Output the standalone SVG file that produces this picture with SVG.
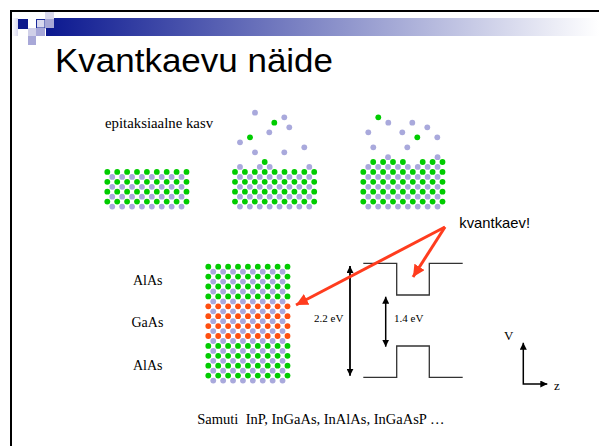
<svg xmlns="http://www.w3.org/2000/svg" xmlns:xlink="http://www.w3.org/1999/xlink" width="599" height="446" viewBox="0 0 599 446">
  <style>
    .sans { font-family: "Liberation Sans", Arial, sans-serif; fill: #000; }
    .serif { font-family: "Liberation Serif", "Times New Roman", serif; fill: #000; }
    .band { fill: none; stroke: #333; stroke-width: 1.3; }
    .dim { stroke: #000; fill: none; }
    .red { stroke: #ff3c1e; stroke-width: 3; fill: none; marker-end: url(#redHead); }
    .lav { fill: #a9a9dc; }
    .grn { fill: #00cc00; }
  </style>
  <defs>
    <linearGradient id="barGrad" x1="0" y1="0" x2="1" y2="0">
      <stop offset="0" stop-color="#0b1890"/>
      <stop offset="1" stop-color="#ffffff"/>
    </linearGradient>
    <linearGradient id="paleGrad" x1="0" y1="0" x2="1" y2="0">
      <stop offset="0" stop-color="#ffffff"/>
      <stop offset="1" stop-color="#d8d8ee"/>
    </linearGradient>
    <marker id="blackHead" viewBox="0 0 10 10" refX="10" refY="5" markerWidth="7" markerHeight="7" markerUnits="userSpaceOnUse" orient="auto-start-reverse">
      <path d="M0,0 L10,5 L0,10 z" fill="#000"/>
    </marker>
    <marker id="redHead" viewBox="0 0 10 10" refX="10" refY="5" markerWidth="12" markerHeight="12" markerUnits="userSpaceOnUse" orient="auto">
      <path d="M0,0 L10,5 L0,10 z" fill="#ff3c1e"/>
    </marker>
    <!-- one lattice layer: a row of 9 cations (fill from the <use>) and the 8 anions below it -->
    <g id="row">
      <circle cx="0" cy="0" r="2.9"/><circle cx="9.9" cy="0" r="2.9"/><circle cx="19.8" cy="0" r="2.9"/>
      <circle cx="29.7" cy="0" r="2.9"/><circle cx="39.6" cy="0" r="2.9"/><circle cx="49.5" cy="0" r="2.9"/>
      <circle cx="59.4" cy="0" r="2.9"/><circle cx="69.3" cy="0" r="2.9"/><circle cx="79.2" cy="0" r="2.9"/>
      <g class="lav">
        <circle cx="4.95" cy="5" r="2.9"/><circle cx="14.85" cy="5" r="2.9"/><circle cx="24.75" cy="5" r="2.9"/>
        <circle cx="34.65" cy="5" r="2.9"/><circle cx="44.55" cy="5" r="2.9"/><circle cx="54.45" cy="5" r="2.9"/>
        <circle cx="64.35" cy="5" r="2.9"/><circle cx="74.25" cy="5" r="2.9"/>
      </g>
    </g>
    <!-- four-layer substrate -->
    <g id="slab">
      <use xlink:href="#row" href="#row" y="0"/>
      <use xlink:href="#row" href="#row" y="9.9"/>
      <use xlink:href="#row" href="#row" y="19.8"/>
      <use xlink:href="#row" href="#row" y="29.7"/>
    </g>
  </defs>

  <rect width="599" height="446" fill="#fff"/>

  <!-- slide frame -->
  <path d="M11,446 V11 H599" fill="none" stroke="#000" stroke-width="2"/>

  <!-- header bar and logo squares -->
  <g id="header">
    <rect x="12" y="18" width="6" height="18" fill="url(#paleGrad)"/>
    <rect x="46" y="18" width="553" height="18" fill="url(#barGrad)"/>
    <rect x="18" y="19" width="10" height="10" fill="#0d1a8c"/>
    <rect x="36.5" y="19.5" width="8.5" height="8.5" fill="#d8d8ee" stroke="#1a2a9a" stroke-width="1"/>
    <rect x="45" y="12" width="9" height="7" fill="#d8d8ec"/>
    <rect x="45" y="19" width="9" height="9" fill="#a8a8d6"/>
    <rect x="28" y="28" width="8" height="8" fill="#d0d0e8"/>
    <rect x="36" y="28" width="9" height="8" fill="#a8a8d8"/>
    <rect x="28" y="36" width="8" height="9" fill="#a8a8d8"/>
  </g>

  <text id="title" class="sans" x="55" y="72" font-size="33" textLength="278" lengthAdjust="spacingAndGlyphs">Kvantkaevu näide</text>

  <text class="serif" x="105" y="128" font-size="14.8">epitaksiaalne kasv</text>

  <!-- growth stage 1: bare substrate -->
  <g id="substrate1">
    <use xlink:href="#slab" href="#slab" x="107.3" y="171.9" fill="#00cc00"/>
  </g>

  <!-- growth stage 2: atoms arriving -->
  <g id="substrate2">
    <use xlink:href="#slab" href="#slab" x="235" y="171.9" fill="#00cc00"/>
    <g class="lav">
      <circle cx="240" cy="166.9" r="2.9"/><circle cx="259.8" cy="166.9" r="2.9"/>
      <circle cx="269.7" cy="166.9" r="2.9"/><circle cx="309.3" cy="166.9" r="2.9"/>
      <circle cx="255" cy="112.7" r="2.9"/><circle cx="284.3" cy="117.3" r="2.9"/>
      <circle cx="289.3" cy="127.3" r="2.9"/><circle cx="269.3" cy="132.3" r="2.9"/>
      <circle cx="240" cy="142.3" r="2.9"/><circle cx="304.3" cy="147.3" r="2.9"/>
      <circle cx="255" cy="152.3" r="2.9"/><circle cx="284.3" cy="152.3" r="2.9"/>
    </g>
    <g class="grn">
      <circle cx="264.7" cy="162" r="2.9"/>
      <circle cx="274.3" cy="122.7" r="2.9"/><circle cx="250" cy="137.3" r="2.9"/>
    </g>
  </g>

  <!-- growth stage 3: new layer forming -->
  <g id="substrate3">
    <use xlink:href="#slab" href="#slab" x="363.3" y="171.9" fill="#00cc00"/>
    <g class="lav">
      <circle cx="368.25" cy="166.9" r="2.9"/><circle cx="378.15" cy="166.9" r="2.9"/>
      <circle cx="388.05" cy="166.9" r="2.9"/><circle cx="397.95" cy="166.9" r="2.9"/>
      <circle cx="407.85" cy="166.9" r="2.9"/><circle cx="417.75" cy="166.9" r="2.9"/>
      <circle cx="427.65" cy="166.9" r="2.9"/><circle cx="437.55" cy="166.9" r="2.9"/>
      <circle cx="388.05" cy="157.2" r="2.9"/><circle cx="437.55" cy="157.2" r="2.9"/>
      <circle cx="388.3" cy="122.7" r="2.9"/><circle cx="412.3" cy="122.7" r="2.9"/>
      <circle cx="427.3" cy="127.3" r="2.9"/><circle cx="368.3" cy="132.3" r="2.9"/>
      <circle cx="402.3" cy="132.3" r="2.9"/><circle cx="437.3" cy="137.3" r="2.9"/>
      <circle cx="373.3" cy="147.3" r="2.9"/><circle cx="407.3" cy="147.3" r="2.9"/>
    </g>
    <g class="grn">
      <circle cx="373.2" cy="162" r="2.9"/><circle cx="383.1" cy="162" r="2.9"/>
      <circle cx="393" cy="162" r="2.9"/><circle cx="402.9" cy="162" r="2.9"/>
      <circle cx="422.7" cy="162" r="2.9"/><circle cx="432.6" cy="162" r="2.9"/>
      <circle cx="442.5" cy="162" r="2.9"/>
      <circle cx="378.3" cy="117.3" r="2.9"/><circle cx="417.3" cy="137.3" r="2.9"/>
    </g>
  </g>

  <!-- AlAs / GaAs / AlAs heterostructure -->
  <g id="heterostructure">
    <use xlink:href="#slab" href="#slab" x="208.3" y="266.7" fill="#00cc00"/>
    <use xlink:href="#slab" href="#slab" x="208.3" y="306.3" fill="#ff4f10"/>
    <use xlink:href="#slab" href="#slab" x="208.3" y="345.9" fill="#00cc00"/>
  </g>

  <g id="layer-labels" class="serif" font-size="14">
    <text x="133" y="285">AlAs</text>
    <text x="131.5" y="327">GaAs</text>
    <text x="133" y="370">AlAs</text>
  </g>

  <!-- band edges -->
  <g id="bands">
    <path class="band" d="M363.3,263.3 H396.7 V295 H429.3 V263.3 H462.7"/>
    <path class="band" d="M363.3,377.3 H396.7 V346 H429.3 V377.3 H462.7"/>
  </g>

  <g id="connectors">
    <line class="dim" x1="350" y1="266" x2="350" y2="375.7" stroke-width="1.8" marker-start="url(#blackHead)" marker-end="url(#blackHead)"/>
    <line class="dim" x1="385.7" y1="296.7" x2="385.7" y2="346.7" stroke-width="1.5" marker-start="url(#blackHead)" marker-end="url(#blackHead)"/>
    <line class="red" x1="445" y1="227" x2="296" y2="305"/>
    <line class="red" x1="445" y1="227" x2="413" y2="277"/>
    <path class="dim" d="M523.3,342.7 V384 H547.3" stroke-width="1.5" marker-start="url(#blackHead)" marker-end="url(#blackHead)"/>
  </g>

  <g class="serif" font-size="11">
    <text x="314" y="322">2.2 eV</text>
    <text x="394" y="322">1.4 eV</text>
  </g>

  <text class="sans" x="459.3" y="228.3" font-size="14.8">kvantkaev!</text>

  <g class="serif" font-size="13">
    <text x="504" y="340">V</text>
    <text x="554" y="390">z</text>
  </g>

  <text class="serif" x="197.3" y="424" font-size="14.5" style="white-space:pre" xml:space="preserve">Samuti  InP, InGaAs, InAlAs, InGaAsP …</text>
</svg>
